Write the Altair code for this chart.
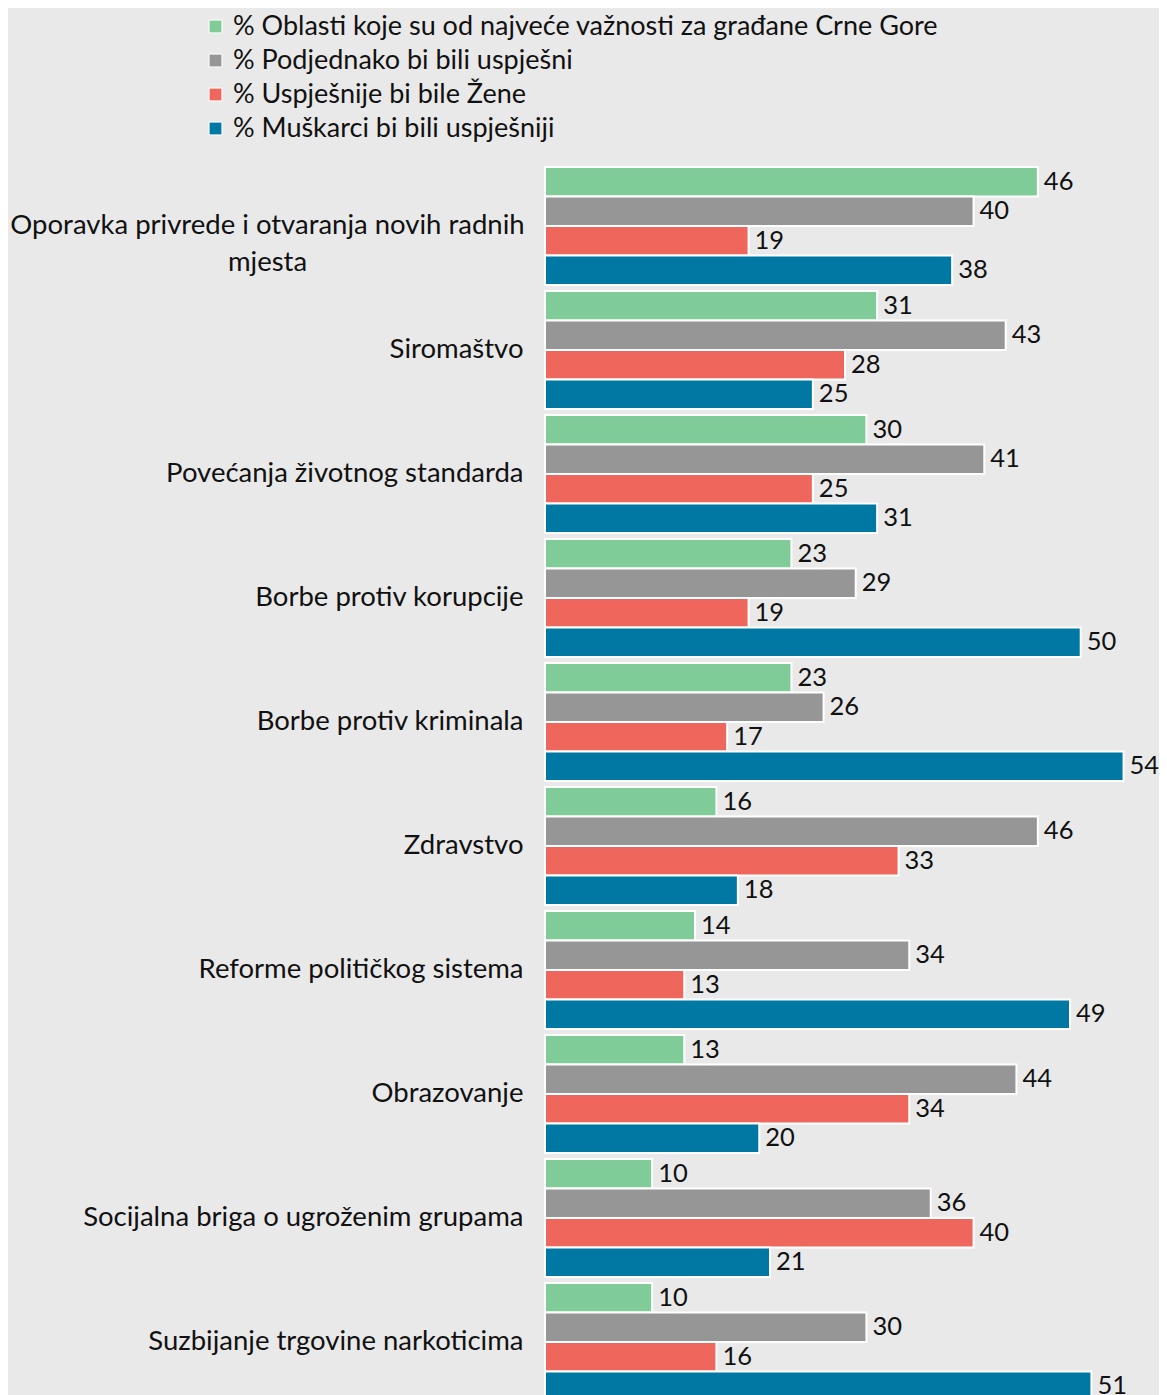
import altair as alt
import pandas as pd

FONT = "Lato"
FS = 27.5

categories = [
    "Oporavka privrede i otvaranja novih radnih mjesta",
    "Siromaštvo",
    "Povećanja životnog standarda",
    "Borbe protiv korupcije",
    "Borbe protiv kriminala",
    "Zdravstvo",
    "Reforme političkog sistema",
    "Obrazovanje",
    "Socijalna briga o ugroženim grupama",
    "Suzbijanje trgovine narkoticima",
]
series = [
    "% Oblasti koje su od najveće važnosti za građane Crne Gore",
    "% Podjednako bi bili uspješni",
    "% Uspješnije bi bile Žene",
    "% Muškarci bi bili uspješniji",
]
oblasti = [46, 31, 30, 23, 23, 16, 14, 13, 10, 10]
podjednako = [40, 43, 41, 29, 26, 46, 34, 44, 36, 30]
zene = [19, 28, 25, 19, 17, 33, 13, 34, 40, 16]
muskarci = [38, 25, 31, 50, 54, 18, 49, 20, 21, 51]
colors = ["#80cc98", "#969696", "#ee665c", "#0078a4"]

rows = []
for s, vals in zip(series, [oblasti, podjednako, zene, muskarci]):
    for c, v in zip(categories, vals):
        rows.append({"category": c, "series": s, "value": v})
df = pd.DataFrame(rows)

long_cat = categories[0]
line1, line2 = long_cat.rsplit(" ", 1)
label_expr = f"datum.label == '{long_cat}' ? ['{line1}', '{line2}'] : datum.label"
test = f"datum.value == '{long_cat}'"

y_axis = alt.Axis(
    title=None,
    domain=False,
    ticks=False,
    labelFont=FONT,
    labelFontSize=FS,
    labelColor="#111111",
    labelLimit=0,
    labelLineHeight=37,
    labelExpr=label_expr,
    labelAlign={"condition": {"test": test, "value": "center"}, "value": "right"},
    labelPadding={"condition": {"test": test, "value": 278}, "value": 22},
)

base = alt.Chart(df).encode(
    y=alt.Y("category:N", sort=categories,
            scale=alt.Scale(paddingInner=0.05, paddingOuter=0.025), axis=y_axis),
    yOffset=alt.YOffset("series:N", sort=series,
                        scale=alt.Scale(domain=series, paddingInner=0, paddingOuter=0)),
    x=alt.X("value:Q", scale=alt.Scale(domain=[0, 56]), axis=None),
)

bars = base.mark_bar(stroke="white", strokeWidth=2).encode(
    color=alt.Color(
        "series:N", sort=series,
        scale=alt.Scale(domain=series, range=colors),
        legend=alt.Legend(
            title=None, orient="none", legendX=-343, legendY=-151,
            symbolType="square", symbolSize=165, symbolStrokeColor="white",
            symbolStrokeWidth=1, symbolOpacity=1,
            labelFont=FONT, labelFontSize=27, labelColor="#111111",
            labelLimit=0, rowPadding=6, labelOffset=4,
        ),
    )
)

text = base.mark_text(align="left", baseline="middle", dx=6, font=FONT,
                      fontSize=25.5, color="#111111").encode(text="value:Q")

chart = (bars + text).properties(
    width=600, height=1240,
    autosize=alt.AutoSizeParams(type="none"),
    padding={"left": 537, "top": 156, "right": 14, "bottom": 10},
    background="#e9e9e9",
).configure_view(stroke=None)

chart.save("out.html", embed_options={"renderer": "svg", "actions": False})
